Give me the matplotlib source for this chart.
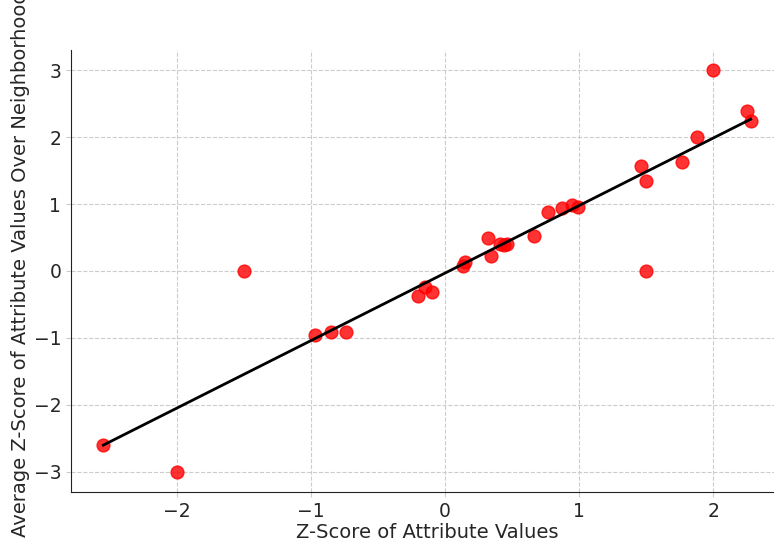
import numpy as np
import matplotlib
matplotlib.use('Agg')
from matplotlib import pyplot as plt

# z-scores of the attribute and the neighbourhood average
z_attr = [-2.55, -2.0, -1.5, -0.97, -0.85, -0.74, -0.20, -0.15, -0.10,
          0.13, 0.15, 0.32, 0.34, 0.41, 0.44, 0.46, 0.66, 0.77, 0.87,
          0.95, 0.99, 1.46, 1.50, 1.50, 1.77, 1.88, 2.0, 2.25, 2.28]
z_neigh = [-2.60, -3.0, 0.0, -0.96, -0.91, -0.91, -0.38, -0.24, -0.31,
           0.08, 0.14, 0.50, 0.22, 0.40, 0.39, 0.41, 0.52, 0.88, 0.94,
           0.98, 0.95, 1.57, 1.35, 0.0, 1.62, 2.00, 3.0, 2.39, 2.24]

x = np.array(z_attr)
y = np.array(z_neigh)

# least squares line through the points
slope, intercept = np.polyfit(x, y, 1)
xs = np.array([x.min(), x.max()])

fig = plt.figure(figsize=(7.74, 5.41), dpi=100)
ax = fig.add_axes([0.0917, 0.0906, 0.92, 0.817])

ax.scatter(x, y, s=85, color='red', alpha=0.8, zorder=3)
ax.plot(xs, slope * xs + intercept, color='black', lw=2, zorder=4)

ax.grid(True, linestyle='--', color='#cccccc', lw=0.8)
ax.set_axisbelow(True)
for side in ('top', 'right'):
    ax.spines[side].set_visible(False)
ax.spines['left'].set_color('#222222')
ax.spines['bottom'].set_color('#222222')
ax.tick_params(colors='#cccccc', labelcolor='#262626', labelsize=13.5)

ax.set_xlabel('Z-Score of Attribute Values', fontsize=14, color='#262626',
              labelpad=2)
ax.set_ylabel('Average Z-Score of Attribute Values Over Neighborhood',
              fontsize=14, color='#262626')
ax.yaxis.set_label_coords(-0.058, 0.515)

fig.savefig('out.png', dpi=100)
